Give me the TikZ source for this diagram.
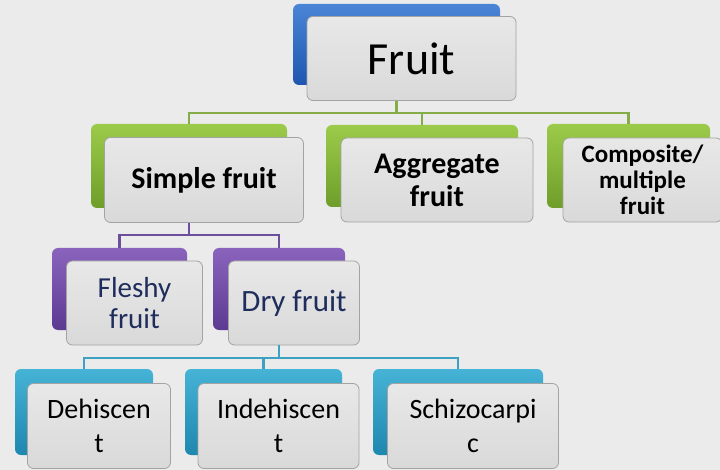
\documentclass[tikz,border=0pt]{standalone}
\usepackage{fontspec}
\setmainfont{Carlito}
\usetikzlibrary{shapes,positioning}
\definecolor{paper}{HTML}{EBEBEB}
\definecolor{faceTop}{HTML}{E8E8E8}
\definecolor{faceBot}{HTML}{D9D9D9}
\definecolor{faceLine}{HTML}{A3A3A3}
\definecolor{navy}{HTML}{1F2D5C}
\definecolor{blueTop}{HTML}{4A85D6}
\definecolor{blueBot}{HTML}{1E56B0}
\definecolor{greenTop}{HTML}{9CCB4A}
\definecolor{greenBot}{HTML}{6E9E2A}
\definecolor{purpleTop}{HTML}{8A64BC}
\definecolor{purpleBot}{HTML}{5C3A92}
\definecolor{tealTop}{HTML}{45B3D6}
\definecolor{tealBot}{HTML}{1E87AE}

\begin{document}
\begin{tikzpicture}[x=1pt, y=-1pt]
    \tikzstyle{tab} = [rectangle, rounded corners=6pt, inner sep=0pt]
    \tikzstyle{bluetab} = [tab, top color=blueTop, bottom color=blueBot]
    \tikzstyle{greentab} = [tab, top color=greenTop, bottom color=greenBot]
    \tikzstyle{purpletab} = [tab, top color=purpleTop, bottom color=purpleBot]
    \tikzstyle{tealtab} = [tab, top color=tealTop, bottom color=tealBot]
    \tikzstyle{face} = [rectangle, draw=faceLine, line width=0.8pt, top color=faceTop, bottom color=faceBot, rounded corners=6pt, inner sep=0pt, align=center]
    \tikzstyle{link1} = [draw=greenBot!85!white, line width=2.6pt]
    \tikzstyle{link2} = [draw=purpleBot!90!white, line width=2.6pt]
    \tikzstyle{link3} = [draw=tealTop!90!black, line width=2.6pt]

    \fill [paper] (0,0) rectangle (720,470);
    \useasboundingbox (0,0) rectangle (720,470);

    \node (fruitT) [bluetab, minimum width=207pt, minimum height=81pt] at (396.5,44.5) {};
    \node (fruit) [face, minimum width=209pt, minimum height=84pt, font=\fontsize{46}{50}\selectfont] at ([shift={(15,14)}]fruitT.center) {Fruit};

    \node (simpleT) [greentab, minimum width=196pt, minimum height=84pt] at (189,166) {};
    \node (simple) [face, minimum width=199pt, minimum height=85pt, font=\bfseries\fontsize{30}{33}\selectfont] at ([shift={(15,14)}]simpleT.center) {Simple fruit};
    \node (aggT) [greentab, minimum width=192pt, minimum height=82pt] at (422,166) {};
    \node (agg) [face, minimum width=192pt, minimum height=84pt, font=\bfseries\fontsize{30}{33}\selectfont] at ([shift={(15,14)}]aggT.center) {Aggregate\\fruit};
    \node (compT) [greentab, minimum width=163pt, minimum height=84pt] at (628.5,166) {};
    \node (comp) [face, minimum width=159pt, minimum height=84pt, font=\bfseries\fontsize{25}{26}\selectfont] at ([shift={(14,14)}]compT.center) {Composite/\\multiple\\fruit};

    \node (fleshyT) [purpletab, minimum width=135pt, minimum height=82pt] at (119.5,289) {};
    \node (fleshy) [face, minimum width=136pt, minimum height=84pt, text=navy, font=\fontsize{29}{31}\selectfont] at ([shift={(15,14)}]fleshyT.center) {Fleshy\\fruit};
    \node (dryT) [purpletab, minimum width=132pt, minimum height=82pt] at (279,289) {};
    \node (dry) [face, minimum width=131pt, minimum height=84pt, text=navy, font=\fontsize{31}{33}\selectfont] at ([shift={(15,14)}]dryT.center) {Dry fruit};

    \node (dehiscT) [tealtab, minimum width=138pt, minimum height=86pt] at (84,412) {};
    \node (dehisc) [face, minimum width=143pt, minimum height=85pt, font=\fontsize{28}{34}\selectfont] at ([shift={(15,14)}]dehiscT.center) {Dehiscen\\t};
    \node (indehT) [tealtab, minimum width=157pt, minimum height=86pt] at (263.5,412) {};
    \node (indeh) [face, minimum width=161pt, minimum height=85pt, font=\fontsize{28}{34}\selectfont] at ([shift={(15,14)}]indehT.center) {Indehiscen\\t};
    \node (schizoT) [tealtab, minimum width=170pt, minimum height=86pt] at (458,412) {};
    \node (schizo) [face, minimum width=171pt, minimum height=85pt, font=\fontsize{28}{34}\selectfont] at ([shift={(15,14)}]schizoT.center) {Schizocarpi\\c};

    \coordinate (bus1) at (0,113);
    \coordinate (bus2) at (0,235);
    \coordinate (bus3) at (0,358);

    \draw [link1] (fruitT |- fruit.south) -- (fruitT |- bus1);
    \draw [link1] (simpleT.north) |- (bus1 -| compT) -- (compT.north);
    \draw [link1] (aggT.north) -- (aggT |- bus1);

    \draw [link2] (simpleT |- simple.south) -- (simpleT |- bus2);
    \draw [link2] (fleshyT.north) |- (bus2 -| dryT) -- (dryT.north);

    \draw [link3] (dryT |- dry.south) -- (dryT |- bus3);
    \draw [link3] (dehiscT.north) |- (bus3 -| schizoT) -- (schizoT.north);
    \draw [link3] (indehT.north) -- (indehT |- bus3);
\end{tikzpicture}
\end{document}
